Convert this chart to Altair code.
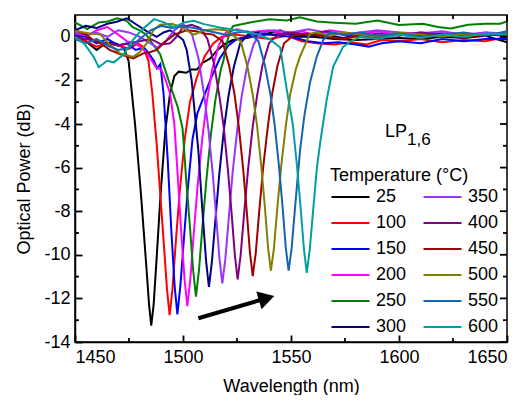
import altair as alt
import pandas as pd

# ---------------- data ----------------
TEMPS = ["25", "100", "150", "200", "250", "300", "350", "400", "450", "500", "550", "600"]
COLORS = ["#000000", "#ff0000", "#0000ff", "#ff00ff", "#008000", "#000080",
          "#9933ff", "#800080", "#a00000", "#808000", "#1464b4", "#00a0a0"]

T25 = [(1450, 0.1), (1455, -0.2), (1460, -0.6), (1464, -0.3), (1467, -0.25), (1470, -0.35), (1472.5, -0.5),
       (1474.8, -1.1), (1477.8, -4.0), (1480.6, -7.3), (1483, -10.5), (1484.3, -12.3), (1485.3, -13.25),
       (1486.4, -12.3), (1487.7, -10.3), (1489.5, -7.4), (1491.8, -4.3), (1494, -2.6), (1496, -1.8),
       (1498, -1.6), (1501.5, -1.65), (1504, -1.5), (1506.5, -1.5), (1509, -1.2), (1512.5, -1.0),
       (1516, -0.6), (1519, -0.35), (1523, -0.15), (1530, -0.05), (1537, 0.1), (1545, 0.3), (1552, 0.0),
       (1560, 0.0), (1570, -0.1), (1580, -0.15), (1590, -0.1), (1600, -0.05), (1610, -0.1), (1620, 0.0),
       (1630, -0.05), (1640, 0.05), (1645, -0.1), (1650, -0.25)]
T100 = [(1450, -0.1), (1455, -0.2), (1460, -0.45), (1465, -0.3), (1470, -0.4), (1475, -0.55), (1479, -0.3),
        (1481.5, -0.45), (1484, -1.1), (1485.8, -2.6), (1487.8, -4.9), (1489.6, -7.4), (1491.2, -9.6),
        (1492.6, -11.6), (1493.8, -12.77), (1495.1, -11.6), (1496.6, -9.5), (1498.4, -7.2), (1500.8, -4.7),
        (1503.2, -3.0), (1506.3, -1.9), (1510, -0.9), (1514, -0.3), (1518, 0.0), (1524, 0.1), (1532, 0.0),
        (1540, -0.1), (1548, 0.05), (1555, -0.2), (1562, -0.3), (1570, -0.35), (1578, -0.25), (1585, -0.35),
        (1592, -0.15), (1600, -0.2), (1610, -0.1), (1620, -0.25), (1630, -0.15), (1640, -0.2), (1650, 0.0)]
T150 = [(1450, 0.1), (1455, 0.0), (1460, -0.3), (1465, -0.1), (1470, -0.4), (1474, -0.3), (1478, -0.6),
        (1482, -0.5), (1484.5, -0.8), (1486.5, -1.1), (1488, -1.45), (1489.5, -1.25), (1491, -2.6),
        (1492.9, -5.6), (1494.6, -8.9), (1496.1, -11.4), (1497.4, -12.73), (1498.8, -11.4), (1500.4, -9.3),
        (1502.2, -7.0), (1504.4, -4.7), (1506.7, -3.5), (1509.4, -2.8), (1513, -1.9), (1517, -1.0),
        (1521, -0.4), (1525, -0.1), (1532, 0.05), (1540, 0.1), (1550, 0.0), (1558, -0.2), (1565, -0.3),
        (1572, -0.25), (1580, -0.35), (1586, -0.45), (1592, -0.3), (1600, -0.2), (1610, -0.3), (1620, -0.1),
        (1630, -0.2), (1640, -0.1), (1650, -0.1)]
T200 = [(1450, 0.15), (1456, 0.05), (1460, 0.3), (1465, 0.45), (1470, 0.1), (1474, -0.2), (1478, -0.3),
        (1482, -0.6), (1485, -1.0), (1487.5, -1.4), (1490, -1.5), (1492, -2.0), (1494, -2.6), (1496, -4.0),
        (1497.7, -6.6), (1499.2, -9.0), (1500.7, -11.1), (1502, -12.35), (1503.4, -11.1), (1505, -9.0),
        (1506.8, -6.8), (1509, -4.6), (1511, -3.0), (1513.5, -1.5), (1516.5, -0.4), (1520, 0.2), (1525, 0.35),
        (1530, 0.2), (1540, 0.3), (1548, 0.1), (1555, 0.25), (1560, 0.1), (1568, 0.3), (1575, 0.2),
        (1582, 0.1), (1590, 0.25), (1600, 0.1), (1610, 0.2), (1620, 0.15), (1630, 0.05), (1640, 0.2),
        (1650, 0.1)]
T250 = [(1450, 0.66), (1455.7, 0.35), (1461, 0.66), (1465, 0.7), (1469.6, 0.85), (1474, 0.73), (1476.5, 0.45),
        (1480.4, 0.27), (1483, 0.1), (1485.8, -0.3), (1489.4, -0.8), (1492, -1.6), (1495, -2.5),
        (1497.5, -3.2), (1499.8, -4.2), (1501.5, -6.6), (1503.2, -8.7), (1504.7, -10.7), (1506, -11.92),
        (1507.4, -10.7), (1509, -8.7), (1510.8, -6.6), (1513, -4.4), (1515, -2.9), (1517.5, -1.5),
        (1518.7, -1.1), (1520.5, -0.2), (1521.8, 0.28), (1523.3, 0.5), (1531, 0.66), (1540, 0.8),
        (1548, 0.75), (1554, 0.89), (1562, 0.7), (1570, 0.65), (1580, 0.6), (1590, 0.75), (1600, 0.54),
        (1611, 0.6), (1618, 0.45), (1624, 0.38), (1632, 0.55), (1640, 0.6), (1646.8, 0.6), (1650, 0.7)]
T300 = [(1450, 0.3), (1455, 0.5), (1460, 0.4), (1465, 0.6), (1469.3, 0.69), (1474, 0.85), (1480, 0.46),
        (1484, 0.2), (1487.8, 0.0), (1491, 0.2), (1494, 0.3), (1497, 0.1), (1500.1, -0.15), (1501.7, -0.6),
        (1504, -2.0), (1507.1, -5.2), (1509, -8.0), (1510.7, -10.3), (1512, -11.47), (1513.4, -10.3),
        (1515, -8.4), (1516.8, -6.3), (1519, -4.2), (1521, -2.75), (1523.5, -1.4), (1526.5, -0.3),
        (1530, 0.1), (1535, 0.2), (1542, 0.1), (1550, 0.15), (1558, 0.0), (1566, 0.1), (1574, -0.05),
        (1582, 0.1), (1590, 0.0), (1600, 0.15), (1610, 0.05), (1620, 0.15), (1630, 0.0), (1640, 0.1),
        (1650, 0.2)]
T350 = [(1450, 0.2), (1455, 0.1), (1460, 0.2), (1465, 0.0), (1470, 0.3), (1475, 0.2), (1480, 0.0),
        (1485, -0.3), (1488, -0.5), (1492, -0.2), (1496, 0.3), (1500, 0.6), (1504.2, 0.1), (1507.2, -1.0),
        (1509.7, -2.6), (1511.7, -4.2), (1513.7, -6.2), (1515.4, -8.3), (1516.9, -10.2), (1518.2, -11.31),
        (1519.6, -10.2), (1521.2, -8.3), (1523, -6.2), (1525.2, -4.2), (1527.2, -2.7), (1529.7, -1.35),
        (1532.7, -0.35), (1536, 0.2), (1542, 0.3), (1550, 0.2), (1558, 0.35), (1566, 0.2), (1574, 0.1),
        (1582, 0.2), (1590, 0.3), (1600, 0.2), (1610, 0.15), (1620, 0.25), (1630, 0.1), (1640, 0.2),
        (1650, 0.15)]
T400 = [(1450, 0.0), (1455, -0.1), (1460, -0.2), (1465, -0.3), (1470, -0.4), (1475, -0.3), (1480, -0.2),
        (1485, -0.1), (1490, -0.35), (1494, -0.3), (1497, 0.0), (1500, 0.45), (1504, 0.55), (1508, 0.4),
        (1511.3, -0.1), (1514.3, -1.2), (1516.8, -2.7), (1518.8, -4.1), (1520.8, -6.1), (1522.5, -8.1),
        (1524, -10.0), (1525.3, -11.13), (1526.7, -10.0), (1528.3, -8.1), (1530.1, -6.1), (1532.3, -4.1),
        (1534.3, -2.7), (1536.8, -1.3), (1539.8, -0.3), (1544, 0.1), (1550, 0.2), (1558, 0.1), (1566, 0.25),
        (1574, 0.1), (1582, 0.0), (1590, 0.15), (1600, 0.05), (1610, 0.2), (1620, 0.1), (1630, 0.15),
        (1640, 0.05), (1650, 0.2)]
T450 = [(1450, 0.3), (1455, 0.1), (1458.5, -0.15), (1462, -0.3), (1466, -0.6), (1471, -0.8), (1477, -0.99),
        (1481.6, -0.76), (1485, -0.7), (1487.8, -0.6), (1492, -0.2), (1496, 0.1), (1501.7, 0.3), (1506, 0.25),
        (1510, 0.15), (1514, 0.1), (1518.3, -0.2), (1521.3, -1.3), (1523.8, -2.6), (1525.8, -4.1),
        (1527.8, -6.0), (1529.5, -8.0), (1531, -9.9), (1532.3, -10.98), (1533.7, -9.9), (1535.3, -8.0),
        (1537.1, -6.0), (1539.3, -4.1), (1541.3, -2.6), (1543.8, -1.3), (1546.8, -0.3), (1551, 0.05),
        (1558, 0.15), (1566, 0.0), (1574, -0.1), (1582, 0.05), (1590, -0.05), (1600, 0.1), (1610, 0.0),
        (1620, 0.1), (1630, -0.05), (1640, 0.1), (1650, 0.05)]
T500 = [(1450, 0.27), (1456.9, 0.15), (1461.9, 0.1), (1466.2, -0.38), (1470.8, -0.76), (1477, -0.92),
        (1480, -0.7), (1483.2, -0.3), (1486.3, 0.3), (1489.4, 0.55), (1495, 0.6), (1500, 0.4), (1505, 0.1),
        (1510, 0.3), (1515, 0.35), (1520, 0.3), (1526.7, -0.2), (1529.7, -1.3), (1532.2, -2.6), (1534.2, -4.0),
        (1536.2, -5.9), (1537.9, -7.8), (1539.4, -9.7), (1540.7, -10.73), (1542.1, -9.7), (1543.7, -7.8),
        (1545.5, -5.9), (1547.7, -4.0), (1549.7, -2.6), (1552.2, -1.5), (1554.2, -0.9), (1558.8, 0.15),
        (1562, 0.2), (1568, 0.05), (1575, 0.2), (1582, 0.1), (1590, 0.0), (1600, 0.2), (1610, 0.1),
        (1620, 0.0), (1630, 0.15), (1640, 0.1), (1650, 0.2)]
T550 = [(1450, -0.1), (1455, -0.3), (1460, -0.1), (1465, -0.4), (1470, -0.6), (1475, -0.5), (1480, -0.1),
        (1485, 0.3), (1490, 0.5), (1495, 0.4), (1500, 0.5), (1505, 0.4), (1510, 0.3), (1515, 0.2), (1520, 0.1),
        (1525, 0.2), (1530, 0.25), (1534.9, -0.2), (1537.9, -1.3), (1540.4, -2.6), (1542.4, -4.0),
        (1544.4, -5.9), (1546.1, -7.8), (1547.6, -9.7), (1548.9, -10.73), (1550.3, -9.7), (1551.9, -7.8),
        (1554.2, -5.2), (1556.2, -3.6), (1558.8, -2.1), (1561.9, -0.92), (1564.9, -0.15), (1568, 0.2),
        (1575, 0.1), (1582, 0.2), (1590, 0.05), (1600, 0.15), (1610, 0.0), (1620, 0.1), (1630, 0.2),
        (1640, 0.05), (1650, 0.25)]
T600 = [(1450, 0.0), (1454.5, -0.34), (1458.8, -0.95), (1461, -1.4), (1464.9, -1.1), (1468, -1.17),
        (1472.7, -0.79), (1476.5, -0.18), (1480.4, 0.27), (1486.6, 0.81), (1491.2, 0.66), (1495.8, 0.43),
        (1500.5, 0.66), (1505, 0.73), (1509.7, 0.58), (1517, 0.43), (1526.4, 0.28), (1534, 0.12),
        (1540, -0.1), (1545, -0.49), (1548, -2.4), (1550.8, -4.0), (1552.8, -5.95), (1554.5, -7.9),
        (1556, -9.75), (1557.3, -10.83), (1558.7, -9.75), (1560.3, -7.9), (1562, -6.0), (1563.6, -4.8),
        (1566.5, -2.9), (1569.5, -1.38), (1574.1, -0.46), (1577.3, -0.23), (1582, 0.0), (1590, -0.1),
        (1600, 0.1), (1610, -0.05), (1620, 0.1), (1630, 0.0), (1640, 0.15), (1650, 0.1)]

CURVES = {"25": T25, "100": T100, "150": T150, "200": T200, "250": T250, "300": T300,
          "350": T350, "400": T400, "450": T450, "500": T500, "550": T550, "600": T600}

X_MAJOR = [1450, 1500, 1550, 1600, 1650]
X_MINOR = [1475, 1525, 1575, 1625]
Y_MAJOR = [0, -2, -4, -6, -8, -10, -12, -14]
Y_MINOR = [-1, -3, -5, -7, -9, -11, -13]
X_DOMAIN = [1450, 1650]
Y_DOMAIN = [-14, 1]

# annotations (data units)
LP_MAIN = {"wl": 1593.5, "db": -4.6, "text": "LP"}
LP_SUB = {"wl": 1603.7, "db": -4.97, "text": "1,6"}
ARROW = {"wl0": 1507.1, "db0": -12.91, "wl1": 1538.7, "db1": -11.99}

# ---------------- build chart ----------------
rows = []
for t in TEMPS:
    for i, (w, d) in enumerate(CURVES[t]):
        rows.append({"temp": t, "wl": w, "db": d, "idx": i})
df = pd.DataFrame(rows)

W, H = 432, 327
FONT = "Liberation Sans"
FS = 18
MAJ, MIN = 7, 4
TW = 1.8


def xsc():
    return alt.Scale(domain=X_DOMAIN, nice=False, zero=False)


def ysc():
    return alt.Scale(domain=Y_DOMAIN, nice=False, zero=False)


main = alt.Chart(df).mark_line(strokeWidth=2).encode(
    x=alt.X("wl:Q", scale=xsc(), axis=alt.Axis(
        orient="bottom", values=X_MAJOR, ticks=True, tickSize=alt.ExprRef("-7"), tickColor="black",
        tickWidth=TW, domain=True, domainColor="black", domainWidth=1.5, grid=False,
        labelFont=FONT, labelFontSize=FS, labelColor="black", labelPadding=13,
        labelExpr="'' + datum.value",
        title="Wavelength (nm)", titleFont=FONT, titleFontSize=FS, titleFontWeight="normal",
        titleColor="black", titlePadding=11)),
    y=alt.Y("db:Q", scale=ysc(), axis=alt.Axis(
        orient="left", values=Y_MAJOR, ticks=True, tickSize=alt.ExprRef("-7"), tickColor="black",
        tickWidth=TW, domain=True, domainColor="black", domainWidth=1.5, grid=False,
        labelFont=FONT, labelFontSize=FS, labelColor="black", labelPadding=12,
        labelExpr="'' + datum.value",
        title="Optical Power (dB)", titleFont=FONT, titleFontSize=FS, titleFontWeight="normal",
        titleColor="black", titlePadding=10)),
    color=alt.Color("temp:N", scale=alt.Scale(domain=TEMPS, range=COLORS),
                    legend=alt.Legend(
                        title="Temperature (°C)", orient="none", legendX=255, legendY=152,
                        columns=2, symbolType="stroke", symbolSize=1444, symbolStrokeWidth=2.2,
                        labelFont=FONT, labelFontSize=FS, labelColor="black", labelOffset=5,
                        titleFont=FONT, titleFontSize=FS, titleFontWeight="normal", titleColor="black",
                        titlePadding=4, columnPadding=15, rowPadding=8, clipHeight=16, padding=0)),
    order=alt.Order("idx:Q"),
)


def xticks(values, y0, y1):
    return alt.Chart(pd.DataFrame({"v": values})).mark_rule(color="black", strokeWidth=TW).encode(
        x=alt.X("v:Q", scale=xsc(), axis=None), y=alt.value(y0), y2=alt.value(y1))


def yticks(values, x0, x1):
    return alt.Chart(pd.DataFrame({"v": values})).mark_rule(color="black", strokeWidth=TW).encode(
        y=alt.Y("v:Q", scale=ysc(), axis=None), x=alt.value(x0), x2=alt.value(x1))


tick_layers = [
    xticks(X_MINOR, H, H - MIN),
    xticks(X_MAJOR, 0, MAJ), xticks(X_MINOR, 0, MIN),
    yticks(Y_MINOR, 0, MIN),
    yticks(Y_MAJOR, W, W - MAJ), yticks(Y_MINOR, W, W - MIN),
]

arrow_df = pd.DataFrame([ARROW])
arrow_line = alt.Chart(arrow_df).mark_rule(strokeWidth=4, color="black").encode(
    x=alt.X("wl0:Q", scale=xsc(), axis=None), y=alt.Y("db0:Q", scale=ysc(), axis=None),
    x2="wl1:Q", y2="db1:Q")
arrow_head = alt.Chart(arrow_df).mark_point(shape="triangle-right", filled=True, size=340, angle=343.6,
                                             color="black", opacity=1).encode(
    x=alt.X("wl1:Q", scale=xsc(), axis=None), y=alt.Y("db1:Q", scale=ysc(), axis=None))

lp_main = alt.Chart(pd.DataFrame([LP_MAIN])).mark_text(
    align="left", baseline="alphabetic", font=FONT, fontSize=FS, color="black").encode(
    x=alt.X("wl:Q", scale=xsc(), axis=None), y=alt.Y("db:Q", scale=ysc(), axis=None), text="text:N")
lp_sub = alt.Chart(pd.DataFrame([LP_SUB])).mark_text(
    align="left", baseline="alphabetic", font=FONT, fontSize=17, color="black").encode(
    x=alt.X("wl:Q", scale=xsc(), axis=None), y=alt.Y("db:Q", scale=ysc(), axis=None), text="text:N")

chart = alt.layer(main, arrow_line, arrow_head, lp_main, lp_sub, *tick_layers).resolve_scale(
    x="independent", y="independent"
).properties(
    width=W, height=H,
    padding={"left": 67, "top": 7, "right": 16, "bottom": 53},
    autosize=alt.AutoSizeParams(type="none"),
).configure_view(stroke="black", strokeWidth=1.5)

chart.save("out.html", embed_options={"renderer": "svg", "actions": False})
